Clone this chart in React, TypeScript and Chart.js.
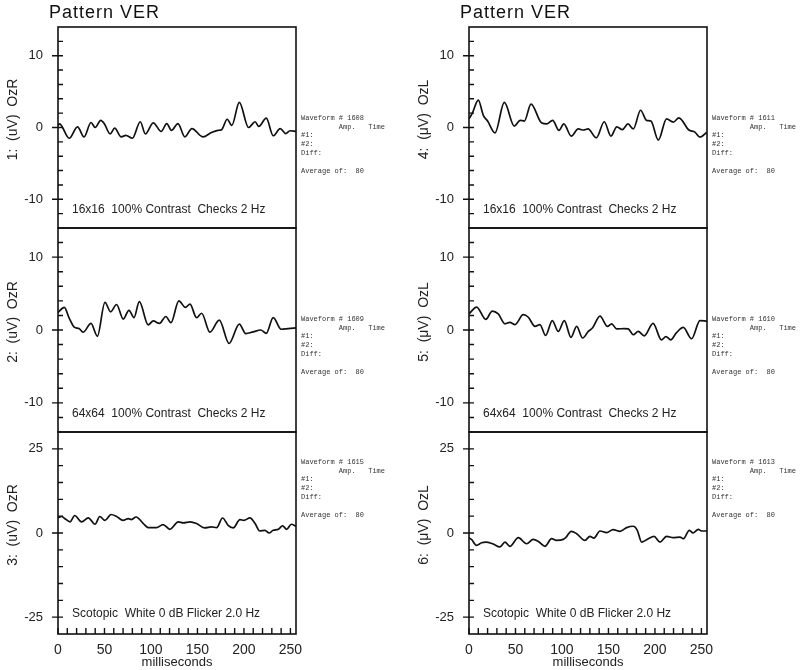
import React, { useEffect, useRef } from "react";
import { Chart, registerables } from "chart.js";

Chart.register(...registerables);

// ---------------- data ----------------
const X_TICKS = [0, 50, 100, 150, 200, 250];
const X_MINOR = [0, 10, 20, 30, 40, 50, 60, 70, 80, 90, 100, 110, 120, 130, 140, 150, 160, 170, 180, 190, 200, 210, 220, 230, 240, 250];

const Y_TICKS_A = [-10, 0, 10];
const Y_MINOR_A = [-12, -10, -8, -6, -4, -2, 0, 2, 4, 6, 8, 10, 12];
const Y_TICKS_B = [-25, 0, 25];
const Y_MINOR_B = [-25, -20, -15, -10, -5, 0, 5, 10, 15, 20, 25];

// 1: OzR 16x16
const WAVE1_MS = [0, 2, 4, 12, 21, 28, 35.5, 40, 46, 50, 56, 61, 68, 73, 80, 88.5, 94, 102.5, 111, 117, 122, 129, 136.5, 144, 156, 165, 172, 176, 182, 187, 195, 205, 212, 216, 224, 231.5, 239, 245, 249.5, 256];
const WAVE1_UV = [0.3, 0.5, 0.2, -1.5, 0.1, -1.3, 0.7, 0, 1.0, 0.5, -0.9, -0.1, -1.3, -1.1, -1.5, 0.8, -0.9, 0.65, -0.55, 0.55, -0.4, 0.55, -1.3, -0.15, -1.3, -0.7, -0.4, -0.3, 1.15, 0.3, 3.5, 0, 0.8, 0.15, 1.3, -1.15, -0.15, -0.85, -0.45, -0.55];

// 2: OzR 64x64
const WAVE2_MS = [0, 6.8, 11.8, 17.5, 22.6, 27, 35.5, 42.3, 50.5, 56.6, 63, 70.2, 76.3, 81.7, 87.5, 97, 102.5, 109, 116, 121.5, 130, 137, 142, 149, 154.5, 163.4, 173.5, 184, 195, 202, 210, 218, 224, 231.5, 240, 247.6, 256];
const WAVE2_UV = [2.4, 3.1, 1.7, 0.4, 0.2, -0.3, 0.9, -0.85, 3.8, 2.5, 3.5, 1.5, 2.7, 1.7, 3.9, 0.7, 1.25, 0.9, 1.85, 1.0, 4.0, 3.1, 3.55, 1.7, 2.3, -0.3, 1.35, -1.85, 0.8, -0.5, -0.25, 0, -0.45, 1.7, 0.1, 0.2, 0.3];

// 3: OzR scotopic
const WAVE3_MS = [0, 4, 7.5, 13, 18, 25.4, 32.6, 39.8, 45, 50.5, 57, 63, 70, 75.6, 79, 84, 91.8, 97, 106, 113, 120.4, 129.4, 134.8, 142, 149, 158, 165, 170.6, 177, 183, 188.5, 195.7, 200, 206.5, 212, 217, 222.6, 227, 231.5, 237, 241.6, 246, 251, 256];
const WAVE3_UV = [4.5, 4.9, 4.25, 3.3, 5.2, 3.3, 4.5, 2.6, 4.9, 3.75, 5.5, 4.9, 3.75, 4.25, 4.0, 4.75, 2.8, 1.6, 1.6, 2.5, 1.1, 3.3, 3.0, 3.3, 2.8, 1.5, 1.8, 1.6, 4.45, 2.3, 1.5, 4.0, 3.75, 4.5, 2.8, 0.6, 0.8, 0, 0.8, 1.1, 2.1, 1.1, 2.6, 2.0];

// 4: OzL 16x16
const WAVE4_MS = [0, 3.6, 10, 15.4, 20, 28, 38, 48.7, 55, 59.5, 66.7, 78, 83.5, 90, 96.8, 102, 110, 117.5, 123, 128, 137, 145.5, 152.7, 159, 165, 171, 176.7, 184.6, 191, 195.7, 203.6, 212.5, 219.7, 225.8, 236.5, 243, 248.4, 256];
const WAVE4_UV = [1.2, 2.0, 3.8, 1.7, 0.9, -0.75, 3.5, 0.2, 1.0, 0.9, 3.25, 0.65, 0.5, 1.0, -0.4, 0.5, -1.2, -0.2, -0.35, -0.2, -1.45, 0.8, -1.2, 0.1, -0.3, 0.5, -0.2, 2.4, 1.0, 0.9, -1.75, 1.2, 0.75, 1.35, -0.35, -0.65, -1.35, -0.65];

// 5: OzL 64x64
const WAVE5_MS = [0, 8.2, 18, 25, 31.5, 38.7, 44, 49.5, 58.4, 63.8, 71, 76.3, 82.4, 89.6, 96, 102.5, 109.7, 115.8, 122.2, 128.3, 133, 140.9, 149, 153.4, 158.8, 167, 171.3, 176.7, 182, 188.5, 198, 207, 211.8, 217, 223, 230.5, 239.4, 248.4, 256];
const WAVE5_UV = [2.2, 3.15, 1.45, 2.6, 2.2, 0.85, 1.05, 0.75, 2.1, 1.75, 0.5, 0.75, -0.75, 1.3, -0.2, 1.3, -1.0, 0.5, -1.1, -0.2, 0.3, 1.9, 0.5, 0.85, 0.15, 0.2, 0.15, -0.65, -0.2, -0.8, 0.9, -1.35, -0.9, -1.35, -0.4, 0.35, -1.2, 1.3, 1.2];

// 6: OzL scotopic
const WAVE6_MS = [0, 2.9, 8, 13.6, 18, 25.4, 33.3, 38.7, 44, 53, 62, 69, 74.6, 81.7, 88.9, 94, 101.4, 104, 110, 115.8, 124.7, 130, 134.4, 140.9, 148, 155, 162.4, 169.5, 176.7, 181, 185.7, 193, 199, 205.4, 212.5, 219.7, 227, 230.5, 237, 241, 246.6, 250, 256];
const WAVE6_UV = [-1.4, -2.0, -3.65, -2.9, -2.7, -3.2, -4.15, -2.7, -3.95, -1.4, -3.2, -1.9, -2.5, -3.95, -1.7, -2.2, -1.9, -1.4, 0.5, -0.2, -2.2, -1.0, -1.5, 0.6, 0.1, 1.0, 0.5, 1.6, 2.0, 0.8, -2.7, -1.7, -1.0, -2.7, -1.0, -1.4, -1.2, -1.7, 0.8, 0, 1.1, 0.6, 0.6];

const PAGE_TITLE = "Pattern VER";
const X_TITLE = "milliseconds";
const Y_TITLES = ["1:  (uV)  OzR", "2:  (uV)  OzR", "3:  (uV)  OzR", "4:  (\u03BCV)  OzL", "5:  (\u03BCV)  OzL", "6:  (\u03BCV)  OzL"];
const NOTES = [
  "16x16  100% Contrast  Checks 2 Hz",
  "64x64  100% Contrast  Checks 2 Hz",
  "Scotopic  White 0 dB Flicker 2.0 Hz",
  "16x16  100% Contrast  Checks 2 Hz",
  "64x64  100% Contrast  Checks 2 Hz",
  "Scotopic  White 0 dB Flicker 2.0 Hz",
];
const WAVE_NUMBERS = ["1608", "1609", "1615", "1611", "1610", "1613"];
const AVERAGE_OF = [80, 80, 80, 80, 80, 80];

// ---------------- layout ----------------
const PAGE_W = 800;
const PAGE_H = 670;
const SANS = '"Liberation Sans", Arial, sans-serif';
const MONO = '"Liberation Mono", "DejaVu Sans Mono", monospace';
const COLS = [
  { left: 58, right: 296 },
  { left: 469, right: 707 },
];
const ROWS = [
  { top: 27, bottom: 228 },
  { top: 228, bottom: 432 },
  { top: 432, bottom: 634 },
];
const Y_AXIS_W = 58;
const X_AXIS_H = 36;

type PanelDef = {
  idx: number;
  col: number;
  row: number;
  ms: number[];
  uv: number[];
  yMin: number;
  yMax: number;
  yTicks: number[];
  yMinor: number[];
};

const PANELS: PanelDef[] = [
  { idx: 0, col: 0, row: 0, ms: WAVE1_MS, uv: WAVE1_UV, yMin: -14, yMax: 14, yTicks: Y_TICKS_A, yMinor: Y_MINOR_A },
  { idx: 1, col: 0, row: 1, ms: WAVE2_MS, uv: WAVE2_UV, yMin: -14, yMax: 14, yTicks: Y_TICKS_A, yMinor: Y_MINOR_A },
  { idx: 2, col: 0, row: 2, ms: WAVE3_MS, uv: WAVE3_UV, yMin: -30, yMax: 30, yTicks: Y_TICKS_B, yMinor: Y_MINOR_B },
  { idx: 3, col: 1, row: 0, ms: WAVE4_MS, uv: WAVE4_UV, yMin: -14, yMax: 14, yTicks: Y_TICKS_A, yMinor: Y_MINOR_A },
  { idx: 4, col: 1, row: 1, ms: WAVE5_MS, uv: WAVE5_UV, yMin: -14, yMax: 14, yTicks: Y_TICKS_A, yMinor: Y_MINOR_A },
  { idx: 5, col: 1, row: 2, ms: WAVE6_MS, uv: WAVE6_UV, yMin: -30, yMax: 30, yTicks: Y_TICKS_B, yMinor: Y_MINOR_B },
];

function makeDecor(p: PanelDef) {
  return {
    id: "panelDecor" + p.idx,
    afterDraw(chart: any) {
      const { ctx, chartArea: a, scales } = chart;
      const ys = scales.y;
      const xs = scales.x;
      const showX = p.row === 2;
      ctx.save();
      // frame
      ctx.strokeStyle = "#111";
      ctx.lineWidth = 1.6;
      ctx.strokeRect(a.left, a.top, a.right - a.left, a.bottom - a.top);
      // ticks
      ctx.lineWidth = 1.4;
      ctx.beginPath();
      for (const v of p.yMinor) {
        const y = ys.getPixelForValue(v);
        ctx.moveTo(a.left, y);
        ctx.lineTo(a.left + 5, y);
      }
      for (const v of p.yTicks) {
        const y = ys.getPixelForValue(v);
        ctx.moveTo(a.left - 6, y);
        ctx.lineTo(a.left, y);
      }
      if (showX) {
        for (const v of X_MINOR) {
          const x = xs.getPixelForValue(v);
          ctx.moveTo(x, a.bottom);
          ctx.lineTo(x, a.bottom - 6);
        }
      }
      ctx.stroke();

      // note inside the plot
      ctx.fillStyle = "#222";
      ctx.font = `12px ${SANS}`;
      ctx.textAlign = "left";
      ctx.textBaseline = "middle";
      ctx.fillText(NOTES[p.idx], a.left + 14, a.bottom - (showX ? 20 : 18));

      // info block on the right
      ctx.fillStyle = "#333";
      ctx.font = `7px ${MONO}`;
      const lines = [
        `Waveform # ${WAVE_NUMBERS[p.idx]}`,
        "         Amp.   Time",
        "#1:",
        "#2:",
        "Diff:",
        "",
        `Average of:  ${AVERAGE_OF[p.idx]}`,
      ];
      const y0 = a.top + (showX ? 30 : 91);
      lines.forEach((ln, i) => ctx.fillText(ln, a.right + 5, y0 + i * 8.8));

      // page title
      if (p.row === 0) {
        ctx.fillStyle = "#111";
        ctx.font = `18px ${SANS}`;
        (ctx as any).letterSpacing = "1px";
        ctx.fillText(PAGE_TITLE, a.left - 9, 13);
        (ctx as any).letterSpacing = "0px";
      }

      // y title (rotated)
      ctx.fillStyle = "#222";
      ctx.font = `14px ${SANS}`;
      ctx.translate(a.left - 45, (a.top + a.bottom) / 2 - 8);
      ctx.rotate(-Math.PI / 2);
      ctx.textAlign = "center";
      ctx.fillText(Y_TITLES[p.idx], 0, 0);
      ctx.restore();
    },
  };
}

function PanelChart({ p }: { p: PanelDef }) {
  const ref = useRef<HTMLCanvasElement>(null);
  useEffect(() => {
    const col = COLS[p.col];
    const row = ROWS[p.row];
    const showX = p.row === 2;
    const chart = new Chart(ref.current as HTMLCanvasElement, {
      type: "line",
      data: {
        datasets: [
          {
            data: p.ms.map((x, i) => ({ x, y: p.uv[i] })),
            borderColor: "#111",
            borderWidth: 1.7,
            pointRadius: 0,
            fill: false,
            cubicInterpolationMode: "monotone",
          } as any,
        ],
      },
      options: {
        responsive: false,
        animation: false,
        devicePixelRatio: 1,
        events: [],
        layout: {
          padding: {
            left: col.left - Y_AXIS_W,
            right: PAGE_W - col.right,
            top: row.top,
            bottom: showX ? PAGE_H - row.bottom - X_AXIS_H : PAGE_H - row.bottom,
          },
        },
        plugins: { legend: { display: false }, tooltip: { enabled: false }, title: { display: false } },
        scales: {
          x: {
            type: "linear",
            min: 0,
            max: 256,
            display: showX,
            afterBuildTicks: (s: any) => {
              s.ticks = X_TICKS.map((v) => ({ value: v }));
            },
            afterFit: (s: any) => {
              s.height = showX ? X_AXIS_H : 0;
            },
            grid: { display: false, drawTicks: false },
            border: { display: false },
            ticks: {
              autoSkip: false,
              maxRotation: 0,
              padding: 8,
              color: "#222",
              font: { family: SANS, size: 14 },
              callback: (v: any) => String(v),
            },
            title: {
              display: true,
              text: X_TITLE,
              color: "#222",
              font: { family: SANS, size: 13 },
              padding: { top: 0, bottom: 0 },
            },
          },
          y: {
            type: "linear",
            min: p.yMin,
            max: p.yMax,
            afterBuildTicks: (s: any) => {
              s.ticks = p.yTicks.map((v) => ({ value: v }));
            },
            afterFit: (s: any) => {
              s.width = Y_AXIS_W;
            },
            grid: { display: false, drawTicks: false },
            border: { display: false },
            ticks: {
              padding: 15,
              color: "#222",
              font: { family: SANS, size: 13 },
              callback: (v: any) => String(v),
            },
          },
        },
      } as any,
      plugins: [makeDecor(p)],
    });
    return () => chart.destroy();
  }, [p]);
  return (
    <canvas
      ref={ref}
      width={PAGE_W}
      height={PAGE_H}
      style={{ position: "absolute", left: 0, top: 0, width: PAGE_W, height: PAGE_H }}
    />
  );
}

export default function App() {
  return (
    <div style={{ position: "absolute", left: 0, top: 0, width: PAGE_W, height: PAGE_H, background: "#fff" }}>
      {PANELS.map((p) => (
        <PanelChart key={p.idx} p={p} />
      ))}
    </div>
  );
}
